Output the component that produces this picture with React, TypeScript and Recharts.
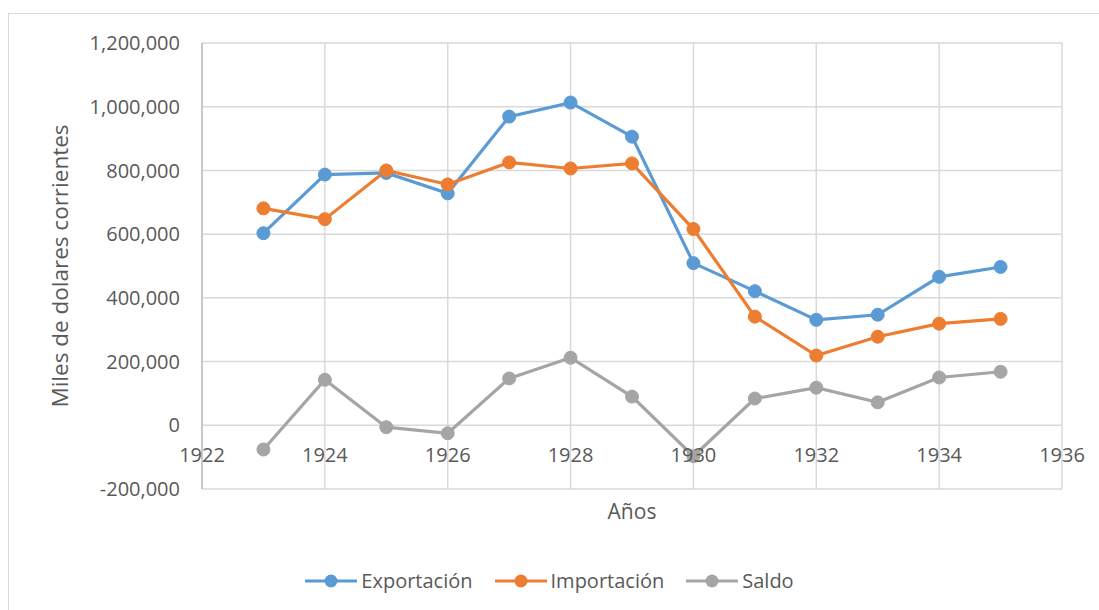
import { LineChart, Line, XAxis, YAxis, CartesianGrid, Legend } from 'recharts';

const years = [1923, 1924, 1925, 1926, 1927, 1928, 1929, 1930, 1931, 1932, 1933, 1934, 1935];
const exportacion = [603000, 787000, 792000, 728000, 969000, 1013000, 906000, 509000, 421000, 331000, 347000, 466000, 497000];
const importacion = [681000, 647000, 800000, 756000, 825000, 806000, 822000, 616000, 341000, 219000, 278000, 319000, 334000];
const saldo = [-76000, 143000, -6000, -25000, 147000, 212000, 90000, -97000, 84000, 118000, 72000, 150000, 168000];

const xTicks = [1922, 1924, 1926, 1928, 1930, 1932, 1934, 1936];
const yTicks = [-200000, 0, 200000, 400000, 600000, 800000, 1000000, 1200000];

const data = years.map((y, i) => ({
  year: y,
  exportacion: exportacion[i],
  importacion: importacion[i],
  saldo: saldo[i],
}));

const FONT = '"Open Sans", sans-serif';
const TEXT = '#595959';
const GRID = '#d9d9d9';

// x labels sit on the zero line, like the Excel original
const XTick = (props: any) => {
  const { x, y, payload } = props;
  return (
    <text x={x} y={y - 34} dy="0.35em" textAnchor="middle" fill={TEXT} fontSize={20} fontFamily={FONT}>
      {payload.value}
    </text>
  );
};

const LegendContent = (props: any) => {
  const { payload } = props;
  return (
    <div style={{ display: 'flex', justifyContent: 'center', gap: 22, fontFamily: FONT, fontSize: 20, color: TEXT }}>
      {payload.map((p: any) => (
        <div key={p.value} style={{ display: 'flex', alignItems: 'center' }}>
          <svg width={52} height={16} style={{ marginRight: 4 }}>
            <line x1={1} y1={8} x2={51} y2={8} stroke={p.color} strokeWidth={3.2} strokeLinecap="round" />
            <circle cx={26} cy={8} r={6.5} fill={p.color} />
          </svg>
          <span>{p.value}</span>
        </div>
      ))}
    </div>
  );
};

export default function App() {
  return (
    <div style={{ position: 'fixed', left: 0, top: 0, width: 1099, height: 610, background: '#fff', overflow: 'hidden' }}>
      <div style={{ position: 'absolute', left: 8, top: 13, width: 1200, height: 700, border: `1px solid ${GRID}` }} />
      <div style={{ position: 'absolute', left: 0, top: 0 }}>
        <LineChart width={1099} height={610} data={data} margin={{ top: 43, right: 37, left: 0, bottom: 59 }}>
          <CartesianGrid stroke={GRID} strokeWidth={1.5} />
          <XAxis
            dataKey="year"
            type="number"
            domain={[1922, 1936]}
            ticks={xTicks}
            tick={<XTick />}
            tickLine={false}
            tickSize={0}
            tickMargin={0}
            axisLine={false}
            height={35}
            label={{ value: 'Años', position: 'insideBottom', offset: 5, fill: TEXT, fontSize: 21, fontFamily: FONT }}
          />
          <YAxis
            type="number"
            domain={[-200000, 1200000]}
            ticks={yTicks}
            width={202}
            tickLine={false}
            axisLine={{ stroke: '#bfbfbf', strokeWidth: 1.5 }}
            tickFormatter={(v: number) => v.toLocaleString('en-US')}
            tick={{ fill: TEXT, fontSize: 20, fontFamily: FONT }}
            tickMargin={16}
            label={{ value: 'Miles de dolares corrientes', angle: -90, position: 'insideLeft', offset: 60, fill: TEXT, fontSize: 22.5, fontFamily: FONT, style: { textAnchor: 'middle' } }}
          />
          <Legend content={<LegendContent />} verticalAlign="bottom" wrapperStyle={{ bottom: 16, left: 0, width: 1099 }} />
          <Line dataKey="exportacion" name="Exportación" stroke="#5b9bd5" strokeWidth={3.2} dot={{ r: 6.5, fill: '#5b9bd5', stroke: '#5b9bd5', strokeWidth: 1 }} isAnimationActive={false} />
          <Line dataKey="importacion" name="Importación" stroke="#ed7d31" strokeWidth={3.2} dot={{ r: 6.5, fill: '#ed7d31', stroke: '#ed7d31', strokeWidth: 1 }} isAnimationActive={false} />
          <Line dataKey="saldo" name="Saldo" stroke="#a5a5a5" strokeWidth={3.2} dot={{ r: 6.5, fill: '#a5a5a5', stroke: '#a5a5a5', strokeWidth: 1 }} isAnimationActive={false} />
        </LineChart>
      </div>
    </div>
  );
}
